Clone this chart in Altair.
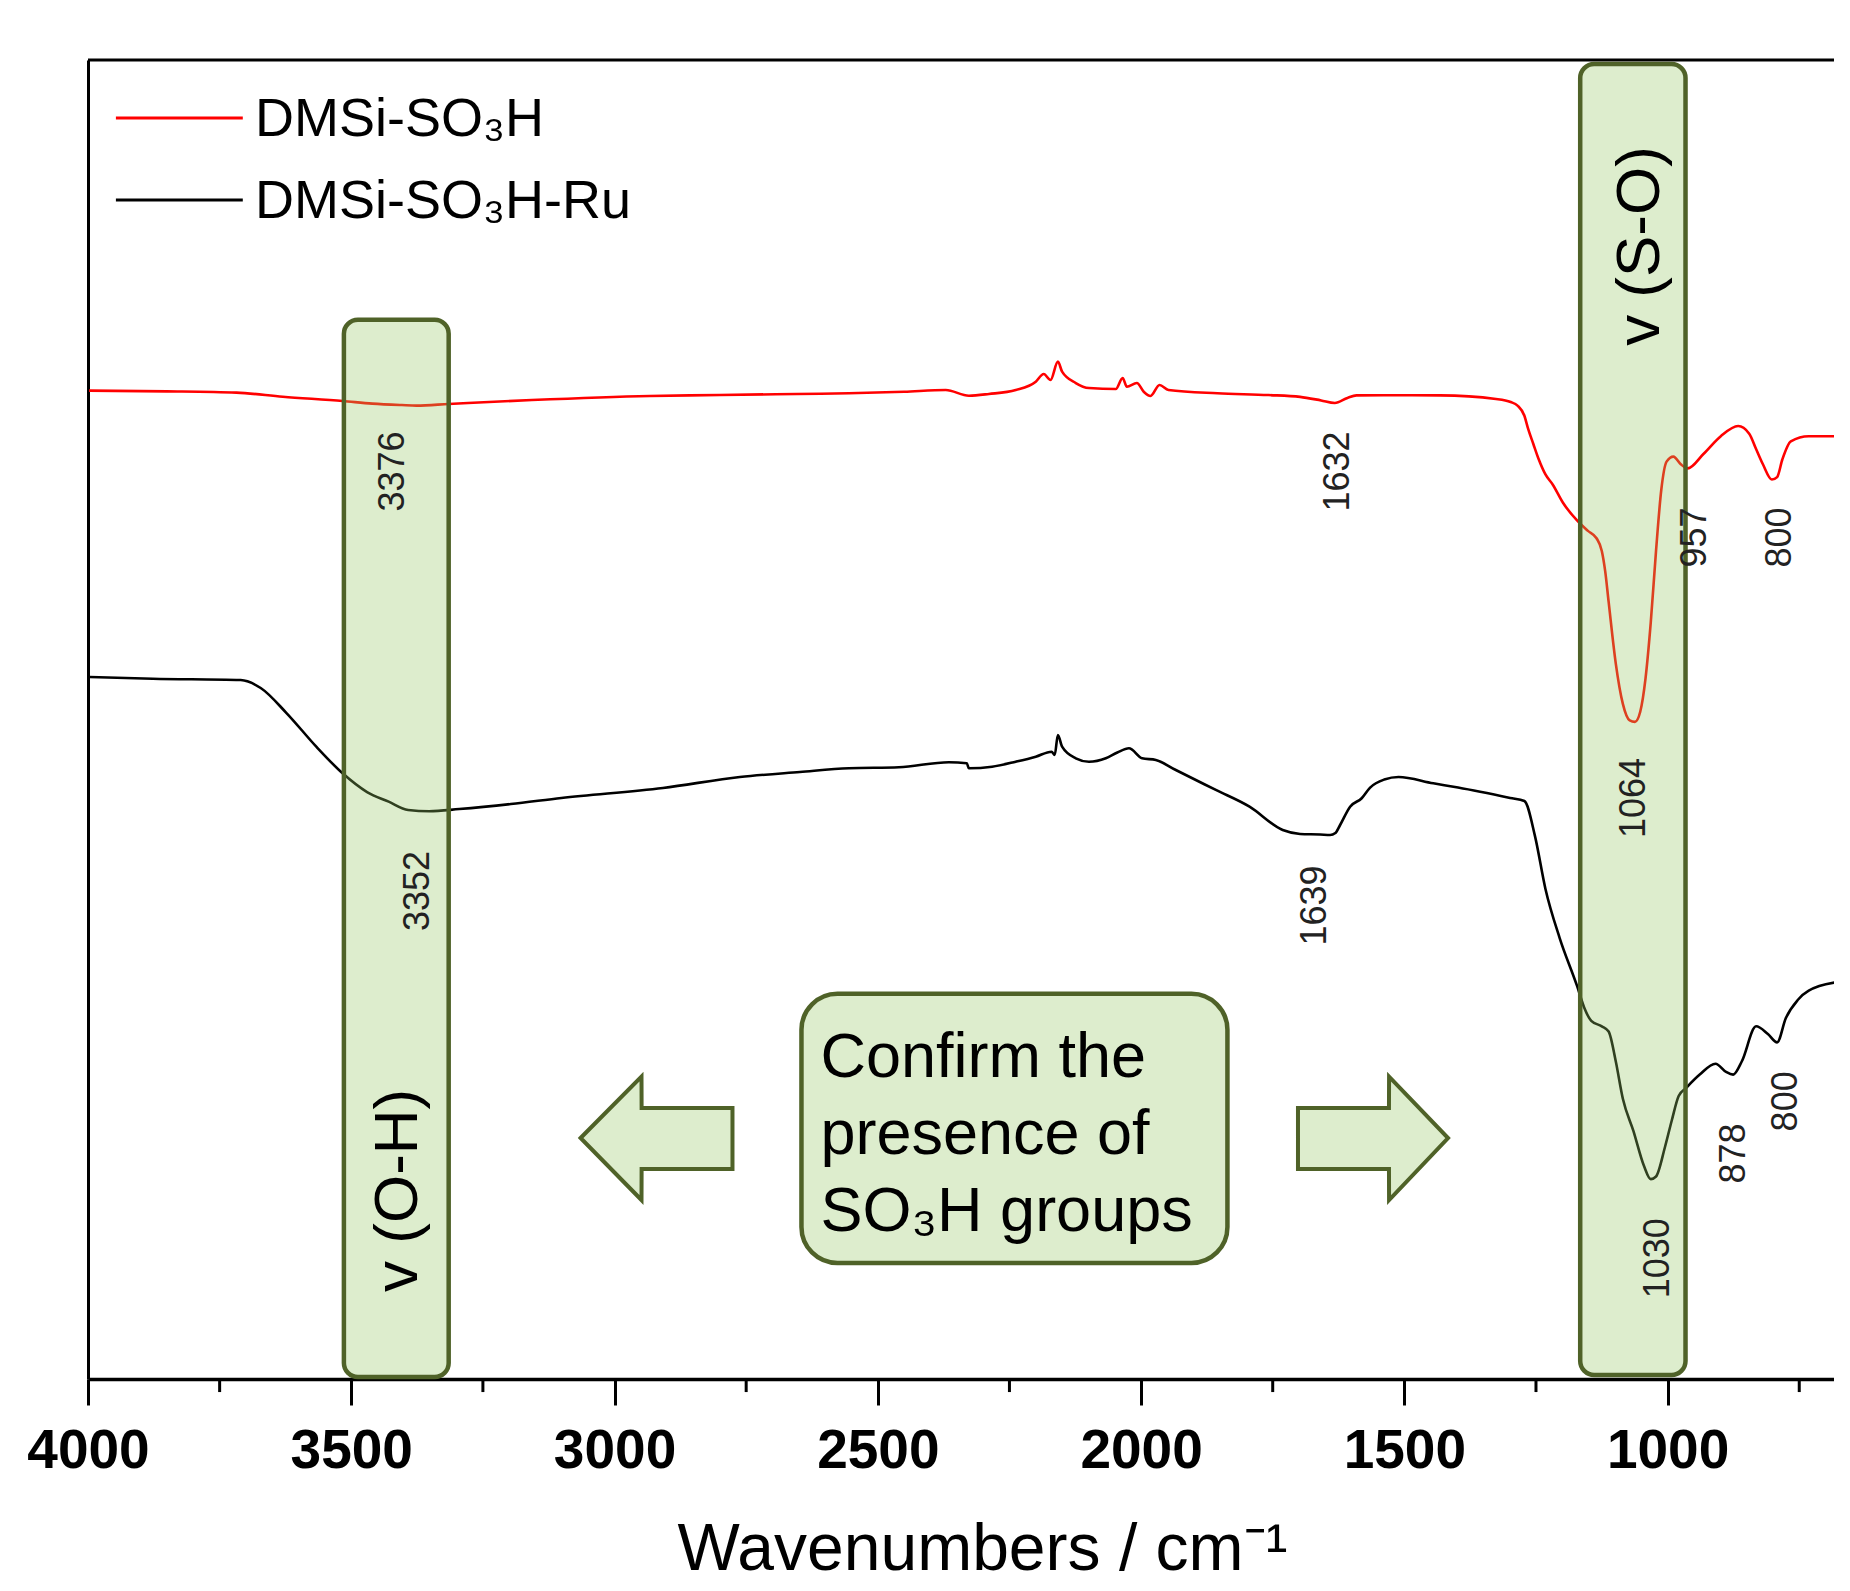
import altair as alt
import pandas as pd

# ---------------- data ----------------
red_wn = [3998, 3850, 3718, 3630, 3516, 3460, 3404, 3376, 3315, 3157, 2933, 2800, 2654, 2555,
          2450, 2371, 2327, 2289, 2238, 2200, 2185, 2172, 2158, 2150, 2124, 2099, 2048, 2035,
          2027, 2008, 1995, 1982, 1965, 1948, 1855, 1758, 1698, 1658, 1632, 1608, 1591, 1500,
          1432, 1326, 1298, 1285, 1272, 1265, 1255, 1245, 1232, 1218, 1199, 1172, 1152, 1135,
          1125, 1118.5, 1112, 1098.5, 1085, 1072, 1062, 1052, 1042, 1032, 1022, 1012, 1002,
          989, 975, 962, 932, 899, 866, 845, 832, 819, 802, 792, 782, 766, 732, 686, 654]
red_t = [74.93, 74.88, 74.78, 74.47, 74.15, 73.95, 73.84, 73.80, 73.92, 74.22, 74.53, 74.60, 74.68, 74.73,
         74.85, 74.98, 74.55, 74.68, 74.98, 75.61, 76.19, 75.74, 77.13, 76.37, 75.51, 75.13, 75.06, 75.89,
         75.23, 75.51, 74.85, 74.53, 75.36, 74.98, 74.73, 74.60, 74.46, 74.19, 74.00, 74.38, 74.57, 74.58,
         74.57, 74.30, 74.07, 73.80, 73.03, 72.05, 70.89, 69.75, 68.58, 67.80, 66.45, 65.09, 64.32, 63.74,
         62.78, 61.23, 58.91, 54.26, 51.18, 49.93, 49.82, 50.59, 53.10, 57.36, 62.78, 67.42, 69.55,
         69.93, 69.35, 69.04, 70.13, 71.48, 72.25, 71.67, 70.51, 69.35, 68.19, 68.38, 69.73, 71.09, 71.48, 71.48, 71.28]

black_wn = [3997, 3877, 3710, 3672, 3623, 3566, 3517, 3470, 3429, 3392, 3352, 3295, 3197, 3101, 2908,
            2762, 2648, 2555, 2460, 2365, 2331, 2327, 2283, 2238, 2200, 2170, 2164, 2158, 2150, 2124,
            2099, 2067, 2045, 2023, 1998, 1972, 1934, 1858, 1794, 1731, 1698, 1660, 1641, 1631, 1622,
            1603, 1581, 1565, 1538, 1511, 1445, 1398, 1299, 1272, 1252, 1232, 1205, 1172, 1158.5, 1145,
            1125, 1112, 1098.5, 1085, 1065, 1045, 1032, 1022, 1005, 992, 979, 965, 939, 909, 889, 875.5,
            859, 832, 809, 792, 775.6, 752, 712, 654]
black_t = [53.22, 53.09, 52.99, 52.39, 50.49, 47.92, 45.94, 44.50, 43.77, 43.14, 43.04, 43.21, 43.59, 44.05, 44.81,
           45.64, 46.02, 46.30, 46.38, 46.76, 46.68, 46.30, 46.42, 46.80, 47.18, 47.56, 47.31, 48.83, 47.94, 47.06,
           46.80, 47.06, 47.50, 47.82, 47.06, 46.93, 46.17, 44.66, 43.39, 41.62, 41.32, 41.28, 41.24, 41.39, 42.00,
           43.39, 44.03, 44.84, 45.45, 45.64, 45.16, 44.84, 44.05, 43.82, 41.18, 37.15, 33.43, 29.80, 28.17, 27.15,
           26.74, 26.34, 24.09, 21.25, 18.81, 16.16, 15.15, 15.35, 17.59, 19.62, 21.46, 22.06, 23.08, 23.90, 23.28, 23.08,
           24.09, 26.74, 26.13, 25.52, 27.35, 28.77, 29.79, 30.20]

series_names = ["DMSi-SO\u2083H", "DMSi-SO\u2083H-Ru"]
series_colors = ["#ff0000", "#000000"]

x_ticks = [4000, 3500, 3000, 2500, 2000, 1500, 1000]
x_minor = [3750, 3250, 2750, 2250, 1750, 1250, 750]

peak_text = ["3376", "3352", "1632", "1639", "1064", "957", "800", "878", "800", "1030"]
peak_x = [3420, 3374, 1626, 1669, 1064, 948, 787, 874, 776, 1019]
peak_y = [68.8, 37.0, 68.8, 35.9, 44.05, 63.8, 63.8, 17.1, 21.05, 9.15]

box_x = [3514, 1166]
box_x2 = [3315, 966]
box_y = [0.15, 0.3]
box_y2 = [80.3, 99.7]
box_text = ["v (O-H)", "v (S-O)"]
box_text_x = [3412, 1052]
box_text_y = [14.3, 85.9]

note_lines = ["Confirm the", "presence of", "SO\u2083H groups"]
note_x = 2609
note_y = [22.9, 17.06, 11.22]
note_box = dict(x=2645, x2=1836, y=8.8, y2=29.2)

# arrow outlines (wavenumber, upper, lower)
arrow_id = ["L", "L", "L", "L", "R", "R", "R", "R"]
arrow_x = [3064.5, 2948.8, 2948.6, 2776, 1702, 1529.2, 1529.0, 1417]
arrow_hi = [18.27, 22.92, 20.55, 20.55, 20.55, 20.55, 22.92, 18.27]
arrow_lo = [18.27, 13.57, 15.92, 15.92, 15.92, 15.92, 13.57, 18.27]

legend_x1 = 3947
legend_x2 = 3706
legend_line_y = [95.6, 89.39]
legend_text_x = 3683
legend_text_y = [94.24, 88.0]

# ---------------- tables ----------------
spec = pd.concat([
    pd.DataFrame({"x": red_wn, "y": red_t, "s": series_names[0]}),
    pd.DataFrame({"x": black_wn, "y": black_t, "s": series_names[1]}),
])
peaks = pd.DataFrame({"x": peak_x, "y": peak_y, "t": peak_text})
boxes = pd.DataFrame({"x": box_x, "x2": box_x2, "y": box_y, "y2": box_y2})
box_labels = pd.DataFrame({"x": box_text_x, "y": box_text_y, "t": box_text})
note = pd.DataFrame({"x": [note_x] * 3, "y": note_y, "t": note_lines})
note_rect = pd.DataFrame([note_box])
arrows = pd.DataFrame({"a": arrow_id, "x": arrow_x, "y": arrow_hi, "y2": arrow_lo})
leg_lines = pd.DataFrame({"x": [legend_x1] * 2, "x2": [legend_x2] * 2, "y": legend_line_y, "s": series_names})
leg_text = pd.DataFrame({"x": [legend_text_x] * 2, "y": legend_text_y, "t": series_names})
minor = pd.DataFrame({"x": x_minor, "y": [0] * len(x_minor), "y2": [-0.99] * len(x_minor)})

FONT = "Liberation Sans"
W, H = 1746, 1319

xs = alt.Scale(domain=[4000, 684], nice=False, zero=False)
ys = alt.Scale(domain=[0, 100], nice=False, zero=False)

x_axis = alt.Axis(values=x_ticks, format="d", grid=False, tickSize=26, tickWidth=3, tickColor="black",
                  domainWidth=3.5, domainColor="black", labelFont=FONT, labelFontSize=55,
                  labelFontWeight="bold", labelColor="black", labelBaseline="alphabetic",
                  labelPadding=62, labelFlush=False, labelOverlap=False,
                  title="Wavenumbers / cm\u207b\u00b9", titleFont=FONT, titleFontSize=66,
                  titleFontWeight="normal", titleColor="black", titleX=894, titleY=190,
                  titleBaseline="alphabetic")
y_axis = alt.Axis(labels=False, ticks=False, grid=False, title=None, domainWidth=3, domainColor="black")

X = alt.X("x:Q", scale=xs, axis=x_axis)
Y = alt.Y("y:Q", scale=ys, axis=y_axis)

color = alt.Color("s:N", scale=alt.Scale(domain=series_names, range=series_colors), legend=None)

lines = alt.Chart(spec).mark_line(strokeWidth=2.6, clip=True, interpolate="monotone").encode(
    x=X, y=Y, color=color, detail="s:N")

top_border = alt.Chart(pd.DataFrame({"y": [100]})).mark_rule(color="black", strokeWidth=3).encode(y=Y)

minor_ticks = alt.Chart(minor).mark_rule(color="black", strokeWidth=3).encode(x=X, y=Y, y2="y2:Q")

GREEN_FILL = "#96c864"
GREEN_STROKE = "#4f6228"

box_layer = alt.Chart(boxes).mark_rect(fill=GREEN_FILL, fillOpacity=0.32, stroke=GREEN_STROKE,
                                        strokeWidth=4.5, cornerRadius=14).encode(
    x=X, x2="x2:Q", y=Y, y2="y2:Q")

note_rect_layer = alt.Chart(note_rect).mark_rect(fill=GREEN_FILL, fillOpacity=0.32, stroke=GREEN_STROKE,
                                                 strokeWidth=4.5, cornerRadius=36).encode(
    x=X, x2="x2:Q", y=Y, y2="y2:Q")

arrow_layer = alt.Chart(arrows).mark_area(fill=GREEN_FILL, fillOpacity=0.32, stroke=GREEN_STROKE,
                                          strokeWidth=4, strokeJoin="miter").encode(
    x=X, y=Y, y2="y2:Q", detail="a:N")

peak_layer = alt.Chart(peaks).mark_text(font=FONT, fontSize=36, angle=270, align="center",
                                        baseline="middle", color="#222222").encode(x=X, y=Y, text="t:N")

box_label_layer = alt.Chart(box_labels).mark_text(font=FONT, fontSize=62, angle=270, align="center",
                                                  baseline="middle", color="black").encode(x=X, y=Y, text="t:N")

note_layer = alt.Chart(note).mark_text(font=FONT, fontSize=63, align="left", baseline="alphabetic",
                                       color="black").encode(x=X, y=Y, text="t:N")

leg_line_layer = alt.Chart(leg_lines).mark_rule(strokeWidth=3).encode(x=X, x2="x2:Q", y=Y, color=color)
leg_text_layer = alt.Chart(leg_text).mark_text(font=FONT, fontSize=54, align="left", baseline="alphabetic",
                                               color="black").encode(x=X, y=Y, text="t:N")

chart = alt.layer(
    lines, top_border, minor_ticks, box_layer, note_rect_layer, arrow_layer,
    peak_layer, box_label_layer, note_layer, leg_line_layer, leg_text_layer
).properties(
    width=W, height=H,
    autosize=alt.AutoSizeParams(type="none"),
    padding={"left": 80, "top": 52, "right": 0, "bottom": 204},
    background="white",
).configure_view(stroke=None)

chart.save("out.html", embed_options={"renderer": "svg", "actions": False})
